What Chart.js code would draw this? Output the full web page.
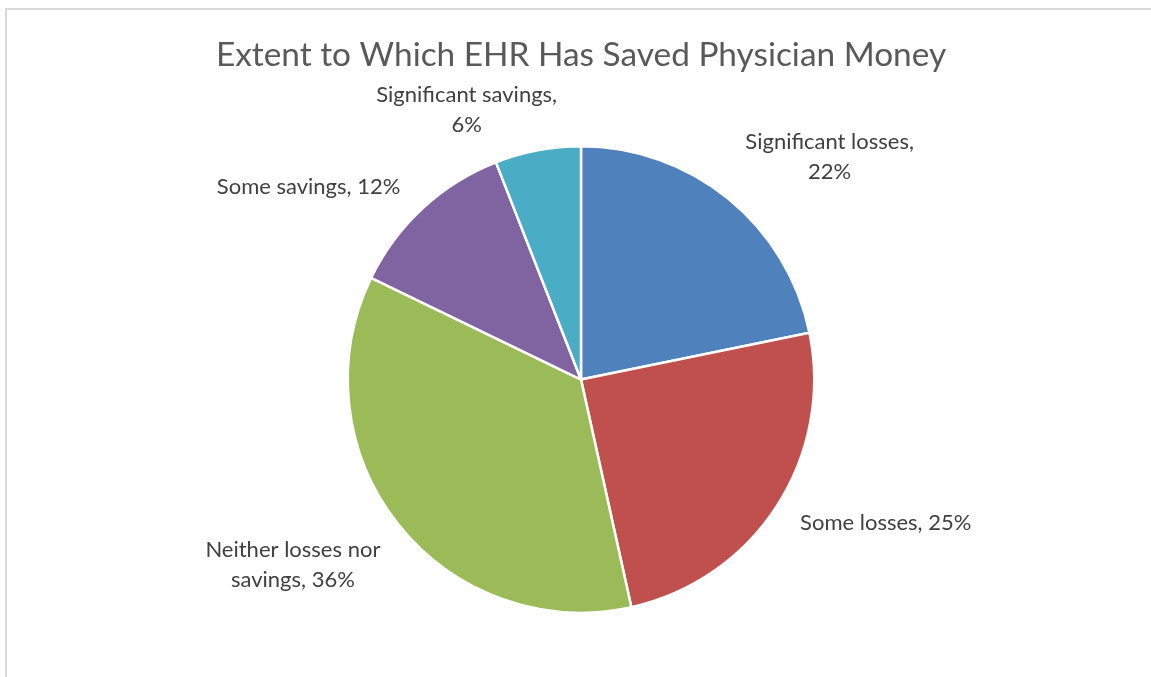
<!DOCTYPE html>
<html>
<head>
<meta charset="utf-8">
<script src="https://cdn.jsdelivr.net/npm/chart.js"></script>
<style>
  html, body { margin: 0; padding: 0; background: #fff; }
  #wrap { width: 1151px; height: 677px; }
</style>
</head>
<body>
<div id="wrap"><canvas id="pie"></canvas></div>
<script>
// ── data ──
const categories = ['Significant losses', 'Some losses', 'Neither losses nor savings', 'Some savings', 'Significant savings'];
const shares = [22, 25, 36, 12, 6];
// how each label is broken into lines (Excel wraps some of them)
const labelLines = [
  ['Significant losses,', '22%'],
  ['Some losses, 25%'],
  ['Neither losses nor', 'savings, 36%'],
  ['Some savings, 12%'],
  ['Significant savings,', '6%']
];

const colors = ['#4F81BD', '#C0504D', '#9BBB59', '#8064A2', '#4BACC6'];

// label placement: distance from centre (x radius) and angle tweak (deg) from slice middle
const labelDist = [1.43, 1.445, 1.47, 1.43, 1.255];
const labelTurn = [9, -7.7, 5.5, -12, -12.3];

const FONT = 'Lato, "Open Sans", sans-serif';

// frame + outside labels
const decor = {
  id: 'decor',
  beforeDraw(chart) {
    const c = chart.ctx;
    c.save();
    c.strokeStyle = '#d9d9d9';
    c.lineWidth = 2;
    c.strokeRect(6, 9, 1300, 1000);
    c.restore();
  },
  afterDatasetsDraw(chart) {
    const c = chart.ctx;
    const arcs = chart.getDatasetMeta(0).data;
    c.save();
    c.font = '22px ' + FONT;
    c.fillStyle = '#404040';
    c.textAlign = 'center';
    c.textBaseline = 'middle';
    arcs.forEach((arc, i) => {
      const mid = (arc.startAngle + arc.endAngle) / 2 + labelTurn[i] * Math.PI / 180;
      const d = arc.outerRadius * labelDist[i];
      const x = arc.x + Math.cos(mid) * d;
      const y = arc.y + Math.sin(mid) * d;
      const lines = labelLines[i];
      const lh = 30;
      lines.forEach((t, k) => {
        c.fillText(t, x, y + (k - (lines.length - 1) / 2) * lh);
      });
    });
    c.restore();
  }
};

new Chart(document.getElementById('pie'), {
  type: 'pie',
  data: {
    labels: categories,
    datasets: [{
      data: shares,
      backgroundColor: colors,
      borderColor: '#ffffff',
      borderWidth: 2.5
    }]
  },
  options: {
    responsive: true,
    maintainAspectRatio: false,
    animation: false,
    layout: { padding: { top: 0, bottom: 63, left: 11, right: 0 } },
    plugins: {
      legend: { display: false },
      tooltip: { enabled: false },
      title: {
        display: true,
        text: 'Extent to Which EHR Has Saved Physician Money',
        color: '#595959',
        font: { family: FONT, size: 33.4, weight: 'normal', lineHeight: 1.2 },
        padding: { top: 35, bottom: 70 }
      }
    }
  },
  plugins: [decor]
});
</script>
</body>
</html>
